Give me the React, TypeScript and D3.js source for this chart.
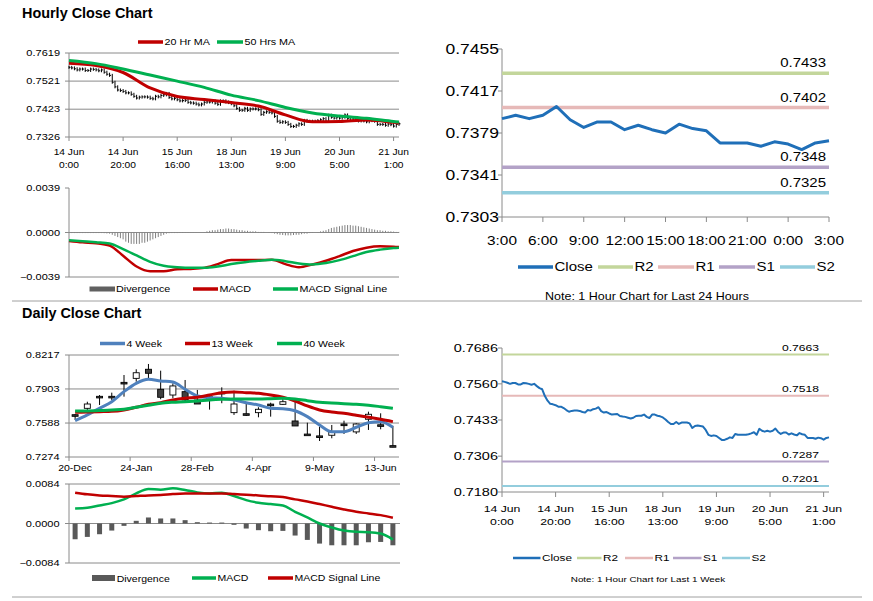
import * as d3 from 'd3';

const FONT = "'Liberation Sans', Arial, Helvetica, sans-serif";
const SX = 1.25; // the chart pictures are a little stretched sideways
const GRID = '#8a8a8a';
const RED = '#c00000';
const GREEN = '#00b050';
const BLUE = '#4f81bd';
const CLOSE_BLUE = '#1f6fb8';
const LEVEL_COLORS = ['#c3d69b', '#e6b9b8', '#b3a2c7', '#93cddd'];

// ---------- hourly closes, 14 Jun 0:00 .. 21 Jun 3:00 (123 hours)
const hourlyClose = [
  0.7569, 0.7567, 0.7564, 0.756, 0.7563, 0.7563, 0.7558, 0.7558, 0.7563, 0.7562,
  0.756, 0.7557, 0.756, 0.7552, 0.7545, 0.7541, 0.7517, 0.7501, 0.749, 0.7488,
  0.7485, 0.748, 0.748, 0.7475, 0.7468, 0.7462, 0.7465, 0.7466, 0.7466, 0.7465,
  0.7461, 0.7459, 0.7468, 0.7466, 0.7471, 0.7473, 0.7478, 0.7464, 0.7459, 0.7461,
  0.7456, 0.7452, 0.7453, 0.7454, 0.7447, 0.7445, 0.7444, 0.7441, 0.7438, 0.7441,
  0.7447, 0.7448, 0.7448, 0.7452, 0.7444, 0.744, 0.7452, 0.7452, 0.7448, 0.7446,
  0.7442, 0.7435, 0.7426, 0.7419, 0.7419, 0.7426, 0.7419, 0.7424, 0.7424, 0.7424,
  0.7421, 0.7405, 0.7412, 0.7414, 0.7412, 0.741, 0.7398, 0.7381, 0.7377, 0.7379,
  0.7377, 0.737, 0.7363, 0.7363, 0.7367, 0.7372, 0.737, 0.7384, 0.7381, 0.7381,
  0.7381, 0.7381, 0.7383, 0.7386, 0.739, 0.7381, 0.7402, 0.7395,
  0.7392, 0.7395, 0.7392, 0.7395, 0.7403, 0.7391, 0.7384, 0.7389, 0.7389, 0.7382,
  0.7386, 0.7382, 0.7379, 0.7387, 0.7383, 0.7381, 0.737, 0.737, 0.737, 0.7367,
  0.7371, 0.7369, 0.7364, 0.737, 0.7372,
];

const hourTickLabels = [
  ['14 Jun', '0:00'], ['14 Jun', '20:00'], ['15 Jun', '16:00'], ['18 Jun', '13:00'],
  ['19 Jun', '9:00'], ['20 Jun', '5:00'], ['21 Jun', '1:00'],
];
const HOUR_STEP = 20;

const maHours = [0, 10, 20, 30, 40, 50, 60, 70, 80, 90, 100, 110, 120, 122];
const ma20Hr = [0.7583, 0.7575, 0.7551, 0.7497, 0.7467, 0.7457, 0.7446, 0.7434, 0.7403, 0.7379, 0.738, 0.7385, 0.7377, 0.7375];
const ma50Hr = [0.7593, 0.7582, 0.7563, 0.7542, 0.7521, 0.7499, 0.7472, 0.7453, 0.7429, 0.741, 0.7399, 0.7391, 0.738, 0.7378];

const macdHours = [0, 5, 10, 15, 20, 25, 30, 35, 40, 45, 50, 55, 60, 65, 70, 75, 80, 85, 90, 95, 100, 105, 110, 115, 120, 122];
const macdHourly = [
  -0.00074, -0.00086, -0.00094, -0.00115, -0.00204, -0.00298, -0.00339, -0.00339, -0.00322, -0.00319,
  -0.0031, -0.00277, -0.00242, -0.00242, -0.00242, -0.00239, -0.00277, -0.00304, -0.0028, -0.00248,
  -0.00207, -0.00162, -0.00133, -0.00121, -0.00124, -0.00127,
];
const signalHourly = [
  -0.00068, -0.00077, -0.00086, -0.00097, -0.00145, -0.00201, -0.00257, -0.00292, -0.00304, -0.0031,
  -0.0031, -0.00298, -0.00277, -0.0026, -0.00248, -0.00239, -0.00251, -0.00271, -0.0028, -0.00268,
  -0.00242, -0.00207, -0.00171, -0.0015, -0.00136, -0.00133,
];
const divergenceHourly = [
  -0.00005, -0.00005, -0.00005, -0.00005, -0.00005, -0.00005, -0.00005, -0.00005, -0.00005, -0.00005,
  -0.00005, -0.00005, -0.00005, -0.00006, -0.00008, -0.0001, -0.0002, -0.0003, -0.0004, -0.0005,
  -0.0006, -0.0008, -0.0009, -0.001, -0.001, -0.001, -0.001, -0.0009, -0.0009, -0.0008,
  -0.0007, -0.0006, -0.0005, -0.0004, -0.0003, -0.0002, -0.0001, -0.00006, -0.00005, -0.00005,
  -0.00005, -0.00004, -0.00004, -0.00003, -0.00003, -0.00002, -0.00002, -0.00001, 0, 0,
  0.00002, 0.0001, 0.00015, 0.0002, 0.0002, 0.00025, 0.0003, 0.0003, 0.00035, 0.00035,
  0.0003, 0.0003, 0.00025, 0.0002, 0.0002, 0.00015, 0.00015, 0.0001, 0.0001, 0.0001,
  0.00005, 0.00005, 0.00005, 0, -0.00003, -0.00005, -0.0001, -0.00015, -0.0002, -0.00022,
  -0.00025, -0.00025, -0.00025, -0.00022, -0.0002, -0.0002, -0.00015, -0.0001, -0.0001, -0.00005,
  -0.00003, 0, 0.00003, 0.0001, 0.00015, 0.0002, 0.0003, 0.0004, 0.00045, 0.0005,
  0.00055, 0.0006, 0.00065, 0.00065, 0.00065, 0.0006, 0.0006, 0.00055, 0.0005, 0.00045,
  0.0004, 0.00035, 0.0003, 0.00025, 0.0002, 0.0002, 0.00015, 0.00015, 0.0001, 0.0001,
  0.00008, 0.00005, 0.00005,
];

const hourlyPriceTicks = [0.7326, 0.7423, 0.7521, 0.7619];
const hourlyMacdTicks = [-0.0039, 0, 0.0039];

// ---------- last 24 hours / last week pivots
const dayTicks = [0.7303, 0.7341, 0.7379, 0.7417, 0.7455];
const dayHourLabels = ['3:00', '6:00', '9:00', '12:00', '15:00', '18:00', '21:00', '0:00', '3:00'];
const DAY_HOURS = 24;
const levelNames = ['R2', 'R1', 'S1', 'S2'];
const dayLevels = [0.7433, 0.7402, 0.7348, 0.7325];

const weekTicks = [0.718, 0.7306, 0.7433, 0.756, 0.7686];
const weekLevels = [0.7663, 0.7518, 0.7287, 0.7201];

// ---------- weekly candles, 20-Dec .. 20-Jun
const weekDateLabels = ['20-Dec', '24-Jan', '28-Feb', '4-Apr', '9-May', '13-Jun'];
const WEEK_STEP = 5;
const weekOpen = [
  0.7665, 0.7724, 0.7835, 0.7835, 0.7964, 0.8001, 0.8085, 0.79, 0.7847, 0.7878,
  0.7801, 0.783, 0.7872, 0.7684, 0.7674, 0.7684, 0.7763, 0.7761, 0.7607, 0.7486,
  0.7469, 0.7475, 0.7579, 0.7506, 0.7623, 0.7572, 0.7379,
];
const weekClose = [
  0.766, 0.7764, 0.783, 0.783, 0.7959, 0.8053, 0.8048, 0.7826, 0.7931, 0.7801,
  0.7764, 0.7828, 0.7867, 0.7764, 0.7669, 0.7715, 0.7759, 0.7785, 0.7561, 0.7482,
  0.746, 0.7508, 0.7564, 0.7579, 0.7669, 0.7568, 0.7373,
];
const weekHigh = [
  0.767, 0.7785, 0.7847, 0.7869, 0.8032, 0.8085, 0.8134, 0.8072, 0.7955, 0.7986,
  0.7894, 0.7834, 0.7918, 0.7887, 0.7776, 0.7734, 0.7776, 0.7817, 0.7785, 0.7591,
  0.7554, 0.757, 0.761, 0.7586, 0.7693, 0.7678, 0.7561,
];
const weekLow = [
  0.7617, 0.7709, 0.7755, 0.7801, 0.7832, 0.797, 0.7992, 0.7808, 0.7817, 0.7785,
  0.7764, 0.7712, 0.7771, 0.7663, 0.7653, 0.7641, 0.7647, 0.7755, 0.7561, 0.7478,
  0.7422, 0.7447, 0.7487, 0.7487, 0.7524, 0.753, 0.7364,
];
const ma4Week = [
  0.761, 0.7663, 0.7725, 0.7785, 0.7878, 0.7955, 0.7992, 0.7977, 0.7967, 0.79,
  0.7838, 0.7822, 0.7817, 0.7801, 0.7776, 0.7755, 0.7725, 0.7721, 0.7702, 0.7647,
  0.757, 0.7508, 0.7508, 0.7549, 0.7591, 0.7601, 0.7549,
];
const ma13Week = [
  0.7687, 0.769, 0.7693, 0.7696, 0.7709, 0.7734, 0.7761, 0.7776, 0.7801, 0.7817,
  0.7826, 0.7847, 0.7869, 0.7875, 0.7869, 0.7863, 0.7847, 0.7826, 0.7792, 0.7746,
  0.7709, 0.769, 0.7678, 0.766, 0.7641, 0.7623, 0.7601,
];
const ma40Week = [
  0.77, 0.77, 0.7703, 0.7709, 0.7715, 0.7734, 0.7752, 0.7771, 0.778, 0.7785,
  0.7792, 0.7801, 0.7807, 0.781, 0.781, 0.781, 0.7813, 0.7817, 0.781, 0.7795,
  0.778, 0.7774, 0.7767, 0.7761, 0.7752, 0.7739, 0.7725,
];
const weeklyPriceTicks = [0.7274, 0.7588, 0.7903, 0.8217];
const weeklyMacdTicks = [-0.0084, 0, 0.0084];
const divergenceWeekly = [
  -0.00335, -0.00285, -0.00228, -0.0015, -0.0005, 0.00057, 0.00128, 0.00107, 0.00107, 0.00071,
  0.00028, 0.0002, 0.0002, -0.00028, -0.00107, -0.00142, -0.00164, -0.00157, -0.00256, -0.00349,
  -0.00427, -0.00463, -0.00463, -0.00463, -0.00399, -0.00392, -0.00463,
];
const macdWeekly = [
  0.0032, 0.00335, 0.00384, 0.00434, 0.00513, 0.0064, 0.00733, 0.00719, 0.00748, 0.00712,
  0.00662, 0.0064, 0.00655, 0.00584, 0.00498, 0.00441, 0.00413, 0.00384, 0.00249, 0.00128,
  0, -0.00085, -0.0015, -0.00178, -0.00185, -0.00214, -0.00342,
];
const signalWeekly = [
  0.00655, 0.0062, 0.00598, 0.00584, 0.0057, 0.00584, 0.00598, 0.00605, 0.00627, 0.0064,
  0.0064, 0.0064, 0.0064, 0.00627, 0.00612, 0.00598, 0.00577, 0.00562, 0.00513, 0.0047,
  0.00413, 0.00356, 0.00299, 0.00249, 0.00214, 0.00178, 0.00121,
];

const fmt = d3.format('.4f');

type TProps = {
  x: number; y: number; size: number; anchor?: string; bold?: boolean; sx?: number;
  children: React.ReactNode;
};
const T = ({ x, y, size, anchor = 'start', bold = false, sx = SX, children }: TProps) => (
  <text
    transform={`translate(${x},${y}) scale(${sx},1)`}
    fontSize={size}
    textAnchor={anchor}
    fontWeight={bold ? 'bold' : 'normal'}
    fontFamily={FONT}
    fill="#000"
  >
    {children}
  </text>
);

const LegendLine = ({ x1, x2, y, color, width, label, size }: any) => (
  <g>
    <line x1={x1} x2={x2} y1={y} y2={y} stroke={color} strokeWidth={width} />
    <T x={x2 + 1.5} y={y + size * 0.36} size={size}>{label}</T>
  </g>
);

// left axis with tick labels, optional horizontal gridlines
const LeftAxis = ({ scale, ticks, x0, x1, size, grid = true, labelX }: any) => {
  const [r0, r1] = scale.range();
  return (
    <g>
      {grid && ticks.map((t: number) => (
        <line key={'g' + t} x1={x0} x2={x1} y1={scale(t)} y2={scale(t)} stroke={GRID} strokeWidth={1} />
      ))}
      <line x1={x0} x2={x0} y1={r0} y2={r1} stroke={GRID} strokeWidth={1} />
      {ticks.map((t: number) => (
        <g key={t}>
          <line x1={x0 - 4} x2={x0} y1={scale(t)} y2={scale(t)} stroke={GRID} />
          <T x={labelX} y={scale(t) + size * 0.36} size={size} anchor="end">{fmt(t)}</T>
        </g>
      ))}
    </g>
  );
};

const App = () => {
  // ---------- hourly close chart (top left)
  const hx = d3.scaleLinear().domain([0, hourlyClose.length - 1]).range([69, 399]);
  const hy = d3.scaleLinear().domain([0.7326, 0.7619]).range([137, 53]);
  const hm = d3.scaleLinear().domain([-0.0039, 0.0039]).range([277, 188]);
  const maLine = d3.line<number>().x((_, k) => hx(maHours[k])).y((d) => hy(d)).curve(d3.curveMonotoneX);
  const macdLine = d3.line<number>().x((_, k) => hx(macdHours[k])).y((d) => hm(d)).curve(d3.curveMonotoneX);
  const hourTicks = hourTickLabels.map((_, k) => k * HOUR_STEP);

  // ---------- last 24 hours (top right)
  const dayData = hourlyClose.slice(hourlyClose.length - DAY_HOURS - 1);
  const dx = d3.scaleLinear().domain([0, DAY_HOURS]).range([502, 829]);
  const dy = d3.scaleLinear().domain([0.7303, 0.7455]).range([217, 49]);
  const dayLine = d3.line<number>().x((_, i) => dx(i)).y((d) => dy(d));
  const dayLabelStep = DAY_HOURS / (dayHourLabels.length - 1);

  // ---------- last week (bottom right)
  const wx = d3.scaleLinear().domain([0, hourlyClose.length - 1]).range([502, 829]);
  const wy = d3.scaleLinear().domain([0.718, 0.7686]).range([492, 348]);
  const weekLine = d3.line<number>().x((_, i) => wx(i)).y((d) => wy(d));

  // ---------- daily close chart (bottom left)
  const cx = d3.scalePoint<number>().domain(d3.range(weekOpen.length)).range([69, 399]).padding(0.5);
  const step = cx.step();
  const cy = d3.scaleLinear().domain([0.7274, 0.8217]).range([457, 355]);
  const cm = d3.scaleLinear().domain([-0.0084, 0.0084]).range([563, 484]);
  const wkLine = d3.line<number>().x((_, i) => cx(i) as number).y((d) => cy(d)).curve(d3.curveMonotoneX);
  const wkMacd = d3.line<number>().x((_, i) => cx(i) as number).y((d) => cm(d)).curve(d3.curveMonotoneX);

  return (
    <svg width={873} height={601} style={{ position: 'absolute', left: 0, top: 0, background: '#fff' }}>
      <rect width={873} height={601} fill="#fff" />

      {/* titles and separators */}
      <T x={22} y={17.5} size={14} bold sx={1.03}>Hourly Close Chart</T>
      <T x={22} y={317.5} size={14} bold sx={1.03}>Daily Close Chart</T>
      <line x1={12} x2={862} y1={301} y2={301} stroke="#a0a0a0" />
      <line x1={12} x2={862} y1={597} y2={597} stroke="#a0a0a0" />

      {/* ===== hourly prices ===== */}
      <LegendLine x1={138} x2={163} y={42} color={RED} width={3.5} label="20 Hr MA" size={8.6} />
      <LegendLine x1={217} x2={243} y={42} color={GREEN} width={3.5} label="50 Hrs MA" size={8.6} />
      <LeftAxis scale={hy} ticks={hourlyPriceTicks} x0={69} x1={399} size={8.8} labelX={60} />
      {hourTicks.map((t, k) => (
        <g key={t}>
          <line x1={hx(t)} x2={hx(t)} y1={137} y2={141} stroke={GRID} />
          <T x={hx(t)} y={155} size={8.2} anchor="middle">{hourTickLabels[k][0]}</T>
          <T x={hx(t)} y={168} size={8.2} anchor="middle">{hourTickLabels[k][1]}</T>
        </g>
      ))}
      {hourlyClose.map((c, i) => {
        const prev = i > 0 ? hourlyClose[i - 1] : c;
        const x = hx(i);
        return (
          <g key={i}>
            <line x1={x} x2={x} y1={hy(Math.max(prev, c)) - 1.5} y2={hy(Math.min(prev, c)) + 1.5} stroke="#000" strokeWidth={1} />
            <line x1={x} x2={x + 1.5} y1={hy(c)} y2={hy(c)} stroke="#000" strokeWidth={1} />
          </g>
        );
      })}
      <path d={maLine(ma20Hr) || undefined} fill="none" stroke={RED} strokeWidth={3} />
      <path d={maLine(ma50Hr) || undefined} fill="none" stroke={GREEN} strokeWidth={3} />

      {/* ===== hourly MACD ===== */}
      <LeftAxis scale={hm} ticks={hourlyMacdTicks} x0={69} x1={399} size={8.8} labelX={60} grid={false} />
      <line x1={69} x2={399} y1={hm(0)} y2={hm(0)} stroke={GRID} />
      <line x1={69} x2={399} y1={hm(-0.0039)} y2={hm(-0.0039)} stroke={GRID} />
      {divergenceHourly.map((v, i) => (
        <line key={i} x1={hx(i)} x2={hx(i)} y1={hm(0)} y2={hm(v)} stroke="#808080" strokeWidth={1} />
      ))}
      <path d={macdLine(macdHourly) || undefined} fill="none" stroke={RED} strokeWidth={2.5} />
      <path d={macdLine(signalHourly) || undefined} fill="none" stroke={GREEN} strokeWidth={2.5} />
      <rect x={89.5} y={286.5} width={25.5} height={5} fill="#606060" />
      <T x={116} y={292.3} size={8.6}>Divergence</T>
      <LegendLine x1={193} x2={218} y={289} color={RED} width={3.5} label="MACD" size={8.6} />
      <LegendLine x1={273} x2={298} y={289} color={GREEN} width={3.5} label="MACD Signal Line" size={8.6} />

      {/* ===== last 24 hours ===== */}
      <LeftAxis scale={dy} ticks={dayTicks} x0={502} x1={829} size={14} labelX={499} grid={false} />
      <line x1={502} x2={829} y1={217} y2={217} stroke={GRID} />
      {dayHourLabels.map((lab, k) => (
        <g key={k}>
          <line x1={dx(k * dayLabelStep)} x2={dx(k * dayLabelStep)} y1={217} y2={222} stroke={GRID} />
          <T x={dx(k * dayLabelStep)} y={245} size={12.3} anchor="middle">{lab}</T>
        </g>
      ))}
      {dayLevels.map((v, k) => (
        <g key={k}>
          <line x1={502} x2={829} y1={dy(v)} y2={dy(v)} stroke={LEVEL_COLORS[k]} strokeWidth={3.5} />
          <T x={826} y={dy(v) - 6} size={12} anchor="end">{fmt(v)}</T>
        </g>
      ))}
      <path d={dayLine(dayData) || undefined} fill="none" stroke={CLOSE_BLUE} strokeWidth={3} strokeLinejoin="round" />
      <LegendLine x1={518} x2={553} y={267} color={CLOSE_BLUE} width={3.5} label="Close" size={12} />
      {levelNames.map((name, k) => (
        <LegendLine key={name} x1={[598, 658, 719, 780][k]} x2={[633, 694, 755, 815][k]} y={267}
          color={LEVEL_COLORS[k]} width={3.5} label={name} size={12} />
      ))}
      <T x={647} y={299.5} size={10} anchor="middle">Note: 1 Hour Chart for Last 24 Hours</T>

      {/* ===== last week ===== */}
      <LeftAxis scale={wy} ticks={weekTicks} x0={502} x1={829} size={11.6} labelX={498} grid={false} />
      <line x1={502} x2={829} y1={492} y2={492} stroke={GRID} />
      {hourTicks.map((t, k) => (
        <g key={t}>
          <line x1={wx(t)} x2={wx(t)} y1={492} y2={497} stroke={GRID} />
          <T x={wx(t)} y={511.5} size={9.8} anchor="middle">{hourTickLabels[k][0]}</T>
          <T x={wx(t)} y={525} size={9.8} anchor="middle">{hourTickLabels[k][1]}</T>
        </g>
      ))}
      {weekLevels.map((v, k) => (
        <g key={k}>
          <line x1={502} x2={829} y1={wy(v)} y2={wy(v)} stroke={LEVEL_COLORS[k]} strokeWidth={2} />
          <T x={819} y={wy(v) - 4} size={9.7} anchor="end">{fmt(v)}</T>
        </g>
      ))}
      <path d={weekLine(hourlyClose) || undefined} fill="none" stroke={CLOSE_BLUE} strokeWidth={2} strokeLinejoin="round" />
      <LegendLine x1={513} x2={540.5} y={558} color={CLOSE_BLUE} width={2.5} label="Close" size={9.4} />
      {levelNames.map((name, k) => (
        <LegendLine key={name} x1={[577, 625, 673, 722][k]} x2={[601.5, 653, 701.5, 750][k]} y={558}
          color={LEVEL_COLORS[k]} width={2.5} label={name} size={9.4} />
      ))}
      <T x={648} y={582} size={7.9} anchor="middle">Note: 1 Hour Chart for Last 1 Week</T>

      {/* ===== daily candles ===== */}
      <LegendLine x1={100} x2={125} y={343.5} color={BLUE} width={3.5} label="4 Week" size={8.4} />
      <LegendLine x1={185} x2={210} y={343.5} color={RED} width={3.5} label="13 Week" size={8.4} />
      <LegendLine x1={277} x2={302} y={343.5} color={GREEN} width={3.5} label="40 Week" size={8.4} />
      <LeftAxis scale={cy} ticks={weeklyPriceTicks} x0={69} x1={399} size={8.8} labelX={59.5} />
      {weekDateLabels.map((lab, k) => {
        const i = k * WEEK_STEP;
        const edge = (cx(i) as number) - step / 2;
        return (
          <g key={lab}>
            <line x1={edge} x2={edge} y1={457} y2={461} stroke={GRID} />
            <T x={cx(i) as number} y={471} size={8.4} anchor="middle">{lab}</T>
          </g>
        );
      })}
      {weekOpen.map((o, i) => {
        const c = weekClose[i];
        const x = cx(i) as number;
        const top = cy(Math.max(o, c));
        const h = Math.max(cy(Math.min(o, c)) - top, 1.6);
        return (
          <g key={i}>
            <line x1={x} x2={x} y1={cy(weekHigh[i])} y2={cy(weekLow[i])} stroke="#000" strokeWidth={1} />
            <rect x={x - 3} y={top} width={6} height={h} fill={c >= o ? '#fff' : '#404040'} stroke="#000" strokeWidth={0.9} />
          </g>
        );
      })}
      <path d={wkLine(ma4Week) || undefined} fill="none" stroke={BLUE} strokeWidth={3} />
      <path d={wkLine(ma13Week) || undefined} fill="none" stroke={RED} strokeWidth={3} />
      <path d={wkLine(ma40Week) || undefined} fill="none" stroke={GREEN} strokeWidth={3} />

      {/* ===== daily MACD ===== */}
      <LeftAxis scale={cm} ticks={weeklyMacdTicks} x0={69} x1={400} size={8.8} labelX={59.5} />
      {divergenceWeekly.map((v, i) => (
        <rect key={i} x={(cx(i) as number) - 2.5} y={Math.min(cm(0), cm(v))} width={5}
          height={Math.abs(cm(v) - cm(0))} fill="#595959" />
      ))}
      <path d={wkMacd(macdWeekly) || undefined} fill="none" stroke={GREEN} strokeWidth={2.5} />
      <path d={wkMacd(signalWeekly) || undefined} fill="none" stroke={RED} strokeWidth={2.5} />
      <rect x={92} y={575} width={23} height={6} fill="#595959" />
      <T x={116.7} y={581.5} size={8.4}>Divergence</T>
      <LegendLine x1={192} x2={216} y={578} color={GREEN} width={3.5} label="MACD" size={8.4} />
      <LegendLine x1={268} x2={293} y={578} color={RED} width={3.5} label="MACD Signal Line" size={8.4} />
    </svg>
  );
};

export default App;
